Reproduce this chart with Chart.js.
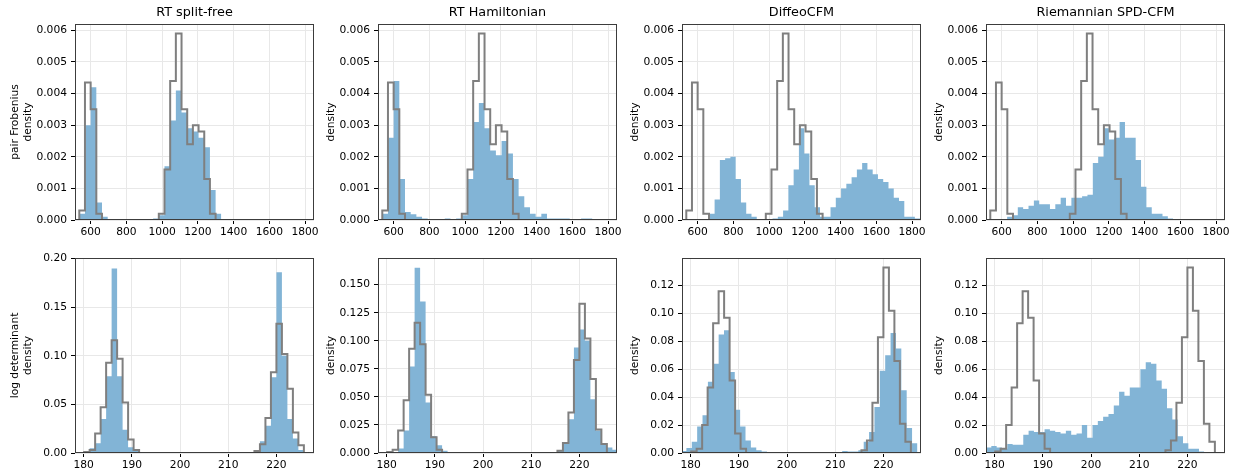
<!DOCTYPE html>
<html>
<head>
<meta charset="utf-8">
<script src="https://cdn.jsdelivr.net/npm/chart.js@4.4.1/dist/chart.umd.min.js"></script>
<style>
  html, body { margin: 0; padding: 0; background: #fff; }
  #fig { position: relative; width: 1233px; height: 476px; overflow: hidden; }
  #fig canvas { position: absolute; }
</style>
</head>
<body>
<div id="fig"></div>
<script>
// column titles and row labels
const titles = ['RT split-free', 'RT Hamiltonian', 'DiffeoCFM', 'Riemannian SPD-CFM'];
const rowLabels = [['pair Frobenius', 'density'], ['log determinant', 'density']];

// tick labels
const frobTicks = [600, 800, 1000, 1200, 1400, 1600, 1800];
const logdetTicks = [180, 190, 200, 210, 220];
const frobYTicks = [0, 0.001, 0.002, 0.003, 0.004, 0.005, 0.006];
const logdetYTicks = [
    [0, 0.05, 0.10, 0.15, 0.20],
    [0, 0.025, 0.05, 0.075, 0.10, 0.125, 0.150],
    [0, 0.02, 0.04, 0.06, 0.08, 0.10, 0.12],
    [0, 0.02, 0.04, 0.06, 0.08, 0.10, 0.12],
];
const logdetYDecimals = [2, 3, 2, 2];
const logdetYMax = [0.2007, 0.1738, 0.1398, 0.1398];

// reference histogram (gray outline), same in every column
const refFrobStart = 536, refFrobWidth = 31.8;
const refFrob = [0.0003, 0.00435, 0.0035, 0.0002, 0, 0, 0, 0, 0, 0, 0, 0, 0, 0,
    0.0002, 0.0016, 0.0044, 0.0059, 0.0035, 0.0024, 0.003, 0.0028, 0.0013, 0.0002];
const refLogdetStart = 180.1, refLogdetWidth = 1.14;
const refLogdet = [0.001, 0.003, 0.02, 0.047, 0.093, 0.116, 0.097, 0.052, 0.014, 0.003,
    0, 0, 0, 0, 0, 0, 0, 0, 0, 0, 0, 0, 0, 0, 0, 0, 0, 0, 0, 0, 0,
    0.002, 0.009, 0.036, 0.083, 0.133, 0.102, 0.066, 0.021, 0.008];

// generated samples (blue), pair Frobenius
const frobStarts = [536, 536, 665, 630];
const frobWidths = [31.8, 31.8, 29.5, 30];
const frobSplitFree = [0.0002, 0.003, 0.0042, 0.00055, 0.0001, 0, 0, 0, 0, 0, 0, 0, 0,
    0.00005, 0.00015, 0.0017, 0.00315, 0.0041, 0.0034, 0.0029, 0.0028, 0.0026, 0.0023, 0.00095, 0.0002];
const frobHamiltonian = [0.0002, 0.0026, 0.0044, 0.0013, 0.00025, 0.00018, 0.0001, 0.00005, 0, 0, 0, 0.00005, 0,
    0.00005, 0.00015, 0.0013, 0.0031, 0.0037, 0.0029, 0.0022, 0.00205, 0.0025, 0.0021, 0.0013, 0.00075,
    0.0004, 0.0002, 0.0001, 0.0002, 0.00005, 0.00005, 0.00005, 0.00005, 0, 0, 0.00005, 0.00005];
const frobDiffeo = [0.0002, 0.00065, 0.0019, 0.00195, 0.002, 0.0013, 0.00055, 0.0002, 0.0001, 0.00003,
    0, 0.00003, 0.00005, 0.0001, 0.0003, 0.0011, 0.0016, 0.0029, 0.0021, 0.0011, 0.0004, 0.0001,
    0.0001, 0.0004, 0.0007, 0.001, 0.00115, 0.00135, 0.0016, 0.0018, 0.0016, 0.00145, 0.0013, 0.0012,
    0.001, 0.0007, 0.0006, 0.0001, 0.0001, 0.00005];
const frobSpd = [0.0001, 0.00015, 0.0004, 0.00035, 0.00045, 0.00062, 0.0005, 0.0005, 0.00035, 0.0005,
    0.0007, 0.00045, 0.0007, 0.0007, 0.00075, 0.0008, 0.0018, 0.002, 0.0029, 0.00255, 0.0026, 0.0031,
    0.0026, 0.0026, 0.0019, 0.00105, 0.0004, 0.0002, 0.0002, 0.00012, 0.00005];

// generated samples (blue), log determinant
const logdetStarts = [180.1, 180.1, 178.0, 178.2];
const logdetWidths = [1.14, 1.14, 1.115, 1.105];
const logdetSplitFree = [0.002, 0.005, 0.01, 0.035, 0.079, 0.19, 0.079, 0.024, 0.006, 0.003, 0.001,
    0, 0, 0, 0, 0, 0, 0, 0, 0, 0, 0, 0, 0, 0, 0, 0, 0, 0, 0, 0,
    0.002, 0.012, 0.028, 0.078, 0.186, 0.1, 0.035, 0.015, 0.003];
const logdetHamiltonian = [0.0005, 0.001, 0.004, 0.02, 0.077, 0.165, 0.135, 0.045, 0.015, 0.007, 0.002,
    0.001, 0.0005, 0.001, 0.001, 0.001, 0, 0, 0, 0, 0, 0, 0, 0, 0.001, 0.001, 0, 0.001, 0, 0, 0,
    0.002, 0.008, 0.03, 0.094, 0.11, 0.1, 0.048, 0.02, 0.008, 0.005, 0.003];
const logdetDiffeo = [0.0015, 0.0036, 0.008, 0.019, 0.027, 0.051, 0.064, 0.085, 0.088, 0.058, 0.031,
    0.019, 0.009, 0.004, 0.002, 0.001, 0.0005, 0.0005, 0.0008, 0.0008, 0, 0, 0, 0, 0, 0, 0, 0, 0, 0,
    0.0015, 0.001, 0.001, 0.002, 0.008, 0.015, 0.033, 0.059, 0.07, 0.086, 0.075, 0.045, 0.018, 0.007];
const logdetSpd = [0.004, 0.005, 0.004, 0.003, 0.0065, 0.006, 0.006, 0.013, 0.016, 0.015, 0.015, 0.017,
    0.016, 0.015, 0.014, 0.016, 0.013, 0.014, 0.02, 0.011, 0.02, 0.023, 0.026, 0.028, 0.034, 0.044,
    0.041, 0.047, 0.047, 0.06, 0.065, 0.064, 0.052, 0.046, 0.032, 0.024, 0.012, 0.007, 0.003, 0.003, 0.001];

const frobGen = [frobSplitFree, frobHamiltonian, frobDiffeo, frobSpd];
const logdetGen = [logdetSplitFree, logdetHamiltonian, logdetDiffeo, logdetSpd];

// layout
const panelLefts = [75, 378, 682, 986];
const plotWidth = 239;
const yAxisWidth = 75, xAxisHeight = 22, padRight = 16, headHeight = 24;

Chart.defaults.font.family = 'DejaVu Sans';
Chart.defaults.color = '#000';

// histogram outline -> step points (left edges)
function histPoints(start, width, heights) {
    const pts = [{ x: start, y: 0 }];
    heights.forEach((h, i) => pts.push({ x: start + i * width, y: h }));
    pts.push({ x: start + heights.length * width, y: 0 });
    return pts;
}

// full box round the plot, like matplotlib spines
const frame = {
    id: 'frame',
    afterDatasetsDraw(chart) {
        const { ctx, chartArea: a } = chart;
        ctx.save();
        ctx.strokeStyle = '#3c3c3c';
        ctx.lineWidth = 1;
        ctx.strokeRect(Math.round(a.left) + 0.5, Math.round(a.top) + 0.5,
            Math.round(a.right - a.left) - 1, Math.round(a.bottom - a.top) - 1);
        ctx.restore();
    }
};

function makePanel(row, col) {
    const fig = document.getElementById('fig');
    const canvas = document.createElement('canvas');
    const plotTop = row === 0 ? 24 : 258;
    const plotHeight = row === 0 ? 196 : 195;
    const w = yAxisWidth + plotWidth + padRight;
    const h = headHeight + plotHeight + xAxisHeight;
    canvas.width = w;
    canvas.height = h;
    canvas.style.left = (panelLefts[col] - yAxisWidth) + 'px';
    canvas.style.top = (plotTop - headHeight) + 'px';
    canvas.style.width = w + 'px';
    canvas.style.height = h + 'px';
    fig.appendChild(canvas);

    const isFrob = row === 0;
    const refPts = isFrob ? histPoints(refFrobStart, refFrobWidth, refFrob)
                          : histPoints(refLogdetStart, refLogdetWidth, refLogdet);
    const genPts = isFrob ? histPoints(frobStarts[col], frobWidths[col], frobGen[col])
                          : histPoints(logdetStarts[col], logdetWidths[col], logdetGen[col]);
    const xTicks = isFrob ? frobTicks : logdetTicks;
    const yTicks = isFrob ? frobYTicks : logdetYTicks[col];
    const dec = isFrob ? 3 : logdetYDecimals[col];

    let yTitle;
    if (col === 0) {
        yTitle = { display: true, text: rowLabels[row], font: { size: 10.7 }, color: '#000', padding: { top: 9.3, bottom: 0 } };
    } else {
        yTitle = { display: true, text: 'density', font: { size: 10.7 }, color: '#000', padding: { top: 21.6, bottom: 0 } };
    }

    const grid = { color: '#e8e8e8', lineWidth: 1, tickLength: 4, tickColor: '#000', tickWidth: 1 };

    new Chart(canvas.getContext('2d'), {
        type: 'line',
        data: {
            datasets: [
                {
                    data: refPts, stepped: true, borderColor: '#7f7f7f', borderWidth: 2,
                    pointRadius: 0, fill: false, order: 0,
                },
                {
                    data: genPts, stepped: true, borderColor: 'rgba(0,0,0,0)', borderWidth: 1,
                    backgroundColor: '#82b4d6', pointRadius: 0, fill: 'origin', order: 1,
                },
            ]
        },
        options: {
            responsive: false,
            animation: false,
            events: [],
            layout: { padding: { top: isFrob ? 0 : headHeight, right: padRight, left: 0, bottom: 0 } },
            plugins: {
                legend: { display: false },
                tooltip: { enabled: false },
                title: {
                    display: isFrob, text: titles[col], fullSize: false, color: '#000',
                    font: { size: 12.8, weight: 'normal' }, padding: { top: 4.6, bottom: 4.04 },
                },
            },
            scales: {
                x: {
                    type: 'linear',
                    min: isFrob ? 512 : 178.2,
                    max: isFrob ? 1850 : 227.8,
                    afterBuildTicks: s => { s.ticks = xTicks.map(v => ({ value: v })); },
                    afterFit: s => { s.height = xAxisHeight; },
                    ticks: { autoSkip: false, maxRotation: 0, padding: 2, font: { size: 10.7 }, color: '#000', callback: v => String(v) },
                    grid: grid,
                    border: { display: false },
                },
                y: {
                    min: 0,
                    max: isFrob ? 0.0062 : logdetYMax[col],
                    afterBuildTicks: s => { s.ticks = yTicks.map(v => ({ value: v })); },
                    afterFit: s => { s.width = yAxisWidth; },
                    ticks: { padding: 4, font: { size: 10.7 }, color: '#000', callback: v => v.toFixed(dec) },
                    title: yTitle,
                    grid: grid,
                    border: { display: false },
                },
            },
        },
        plugins: [frame],
    });
}

for (let row = 0; row < 2; row++) {
    for (let col = 0; col < 4; col++) {
        makePanel(row, col);
    }
}
</script>
</body>
</html>
